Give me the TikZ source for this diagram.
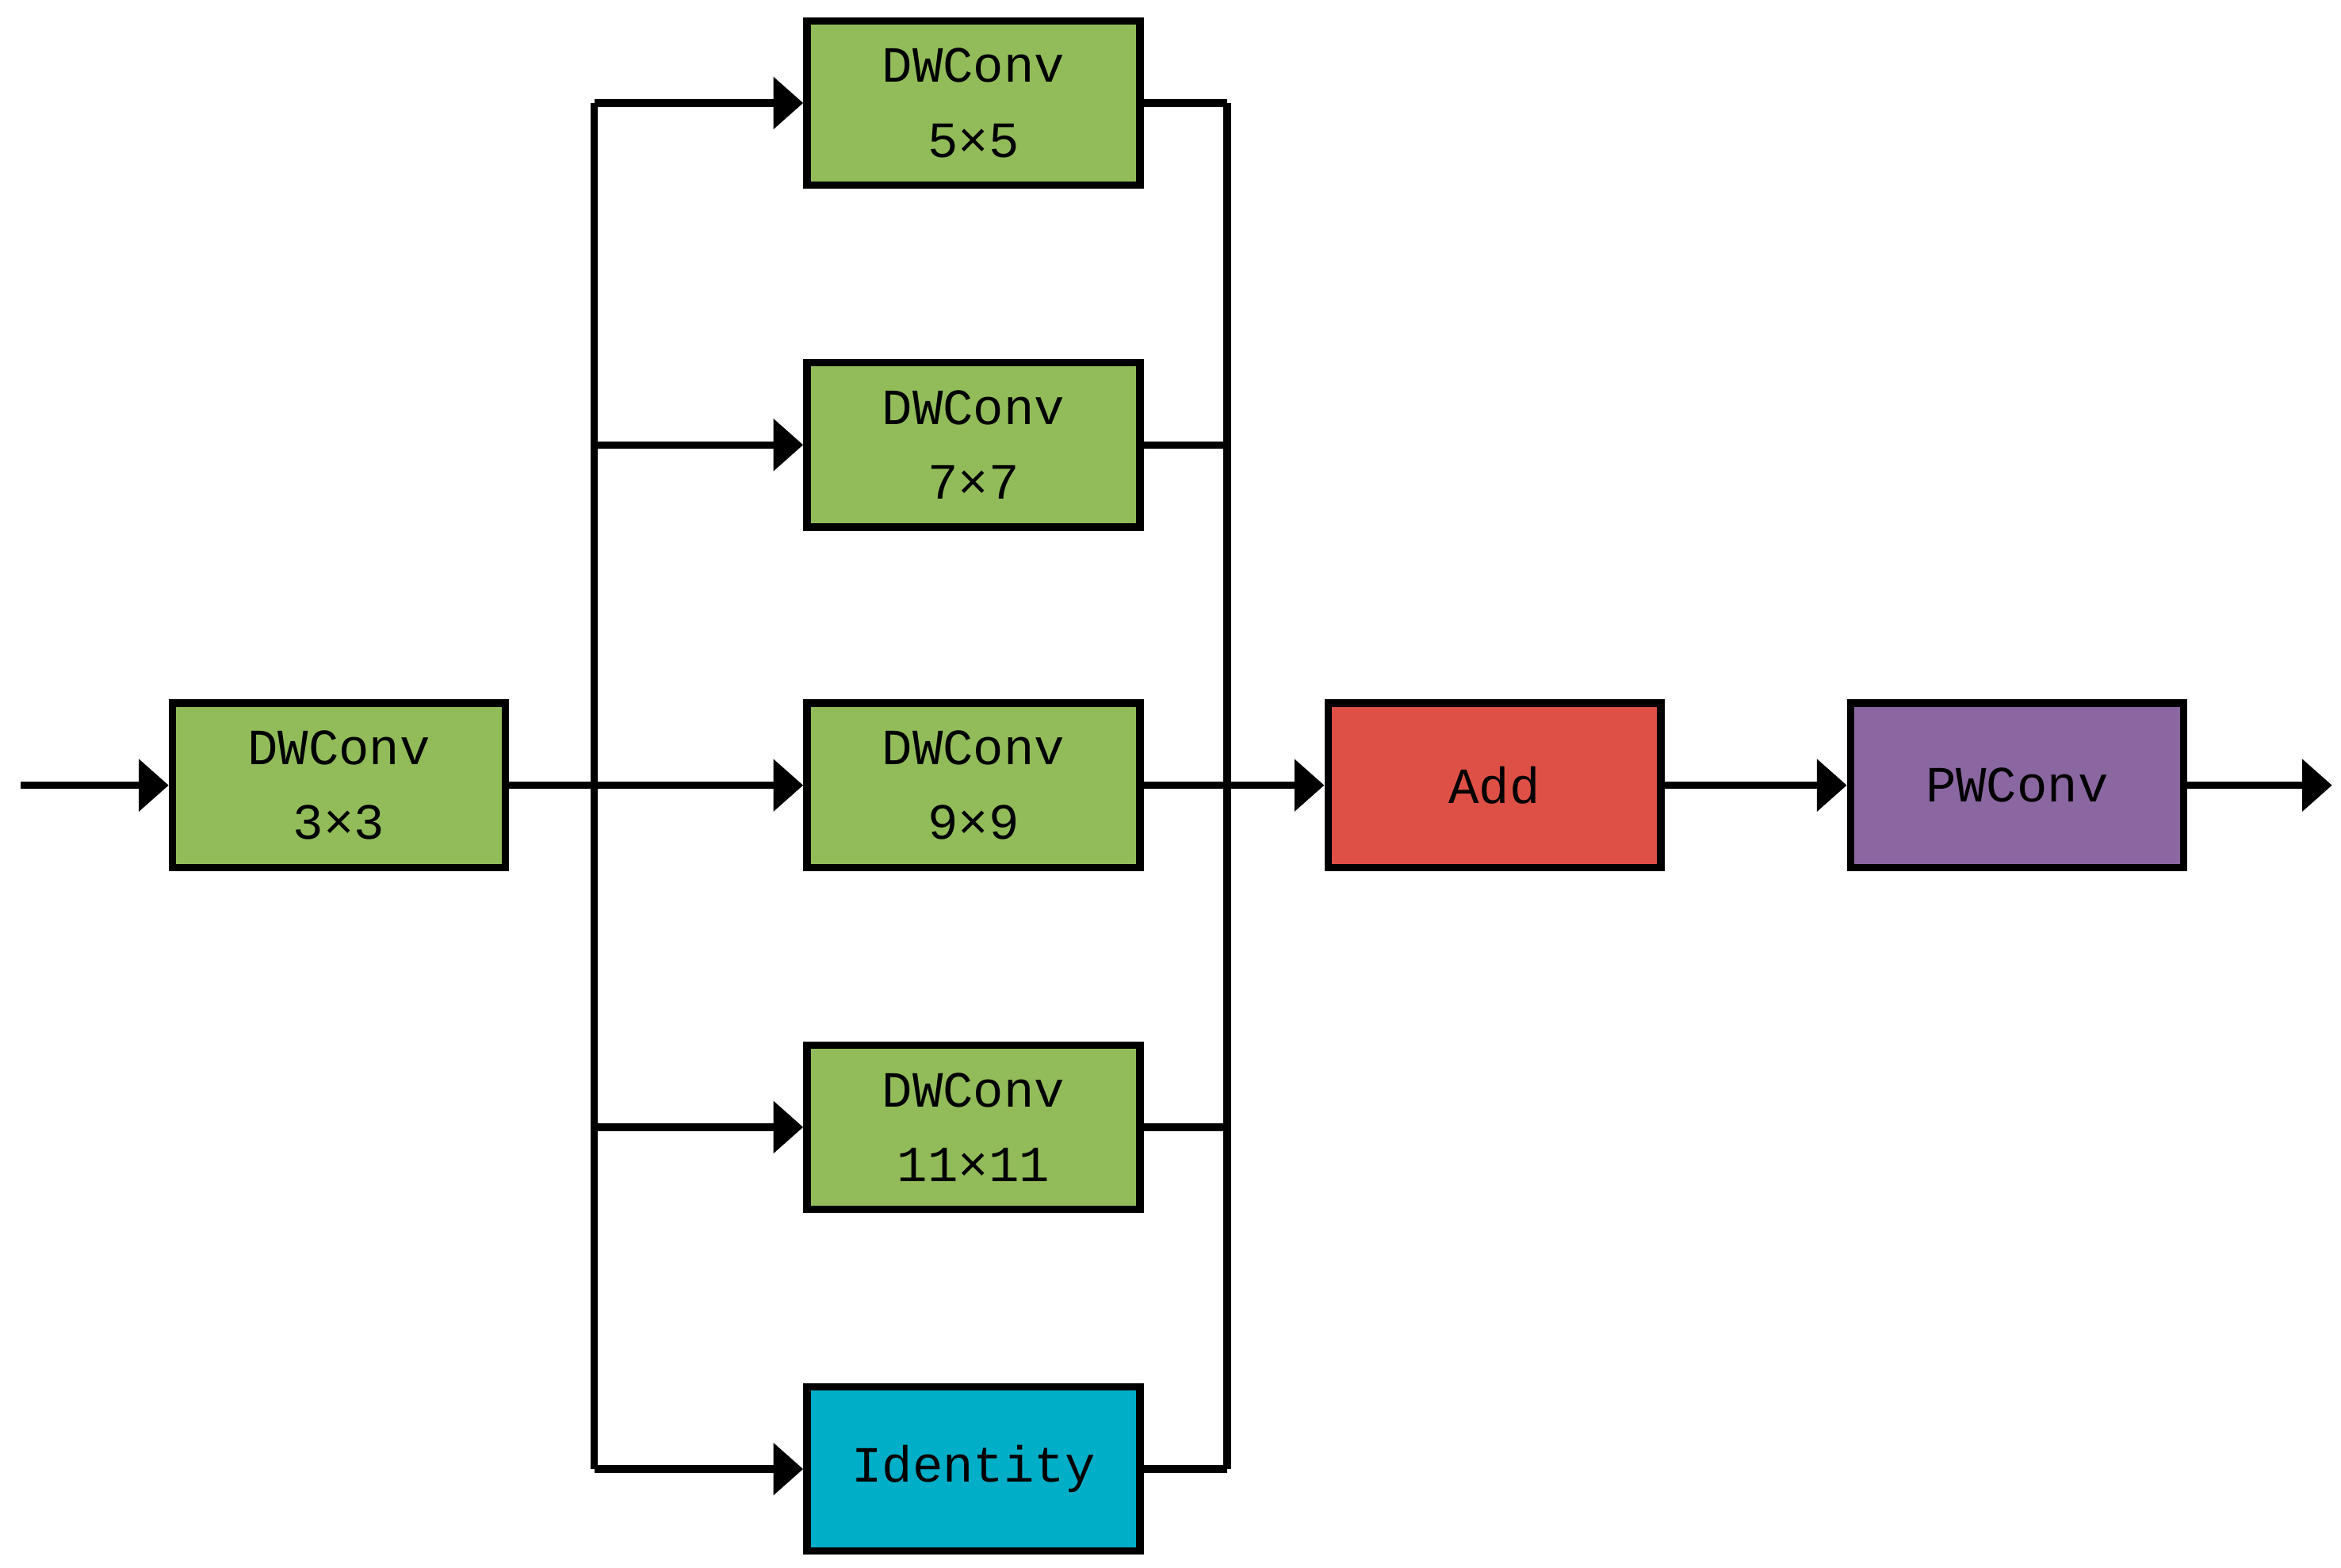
\documentclass[tikz,border=0pt]{standalone}
\usepackage{fontspec}
\setmainfont{Liberation Mono}
\usetikzlibrary{arrows.meta}
\definecolor{gr}{HTML}{92BC5A}
\definecolor{rd}{HTML}{DE5045}
\definecolor{pu}{HTML}{8A67A1}
\definecolor{cy}{HTML}{00AEC7}
\begin{document}
\begin{tikzpicture}[x=1pt,y=-1pt,
  box/.style={draw,line width=5pt,minimum width=223pt,minimum height=110pt,inner sep=0pt,align=center,font=\fontsize{34}{50}\selectfont},
  ln/.style={line width=5pt},
  ar/.style={ln,-{Triangle[length=20pt,width=34pt]}}]
\useasboundingbox (0,0) rectangle (1568,1050);
\node[box,fill=gr] (d3) at (227,526) {DWConv\\3×3};
\node[box,fill=gr] (d5) at (652,69) {DWConv\\5×5};
\node[box,fill=gr] (d7) at (652,298) {DWConv\\7×7};
\node[box,fill=gr] (d9) at (652,526) {DWConv\\9×9};
\node[box,fill=gr] (d11) at (652,755) {DWConv\\11×11};
\node[box,fill=cy] (id) at (652,984) {Identity};
\node[box,fill=rd] (add) at (1001,526) {Add};
\node[box,fill=pu] (pw) at (1351,526) {PWConv};
\coordinate (in) at (14,526);
\coordinate (out) at (1562,526);
\coordinate (lt) at (398,69);
\coordinate (lb) at (398,984);
\coordinate (rt) at (822,69);
\coordinate (rb) at (822,984);
\draw[ar] (in) -- (d3.west);
\draw[ln] (lt) -- (lb);
\draw[ln] (rt) -- (rb);
\draw[ar] (d3.east) -- (d9.west);
\foreach \n in {d5,d7,d11,id}{
  \draw[ar] (lt|-\n.west) -- (\n.west);
  \draw[ln] (\n.east) -- (rt|-\n.east);
}
\draw[ar] (d9.east) -- (add.west);
\draw[ar] (add.east) -- (pw.west);
\draw[ar] (pw.east) -- (out);
\end{tikzpicture}
\end{document}
